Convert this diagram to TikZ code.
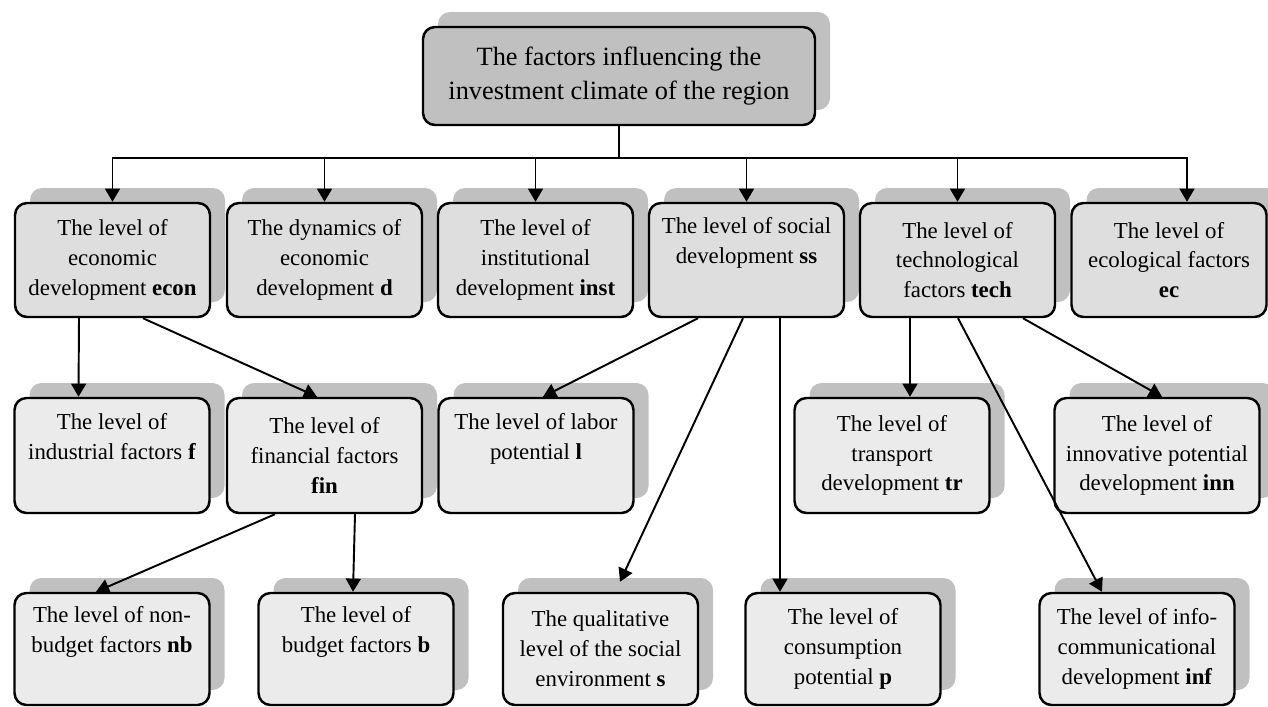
\documentclass[tikz,border=0pt]{standalone}
\usepackage{fontspec}
\setmainfont{Liberation Serif}
\usepackage{tikz}
\usetikzlibrary{arrows.meta,shadows}

\definecolor{shd}{RGB}{192,192,192}
\definecolor{topfill}{RGB}{192,192,192}
\definecolor{lvlone}{RGB}{222,222,222}
\definecolor{lvltwo}{RGB}{235,235,235}

\begin{document}
\begin{tikzpicture}[
  font=\fontsize{13}{17}\selectfont,
  >={Triangle[width=8.5pt,length=7.5pt]},
  arr/.style={->, line width=1.1pt},
  blk/.style={draw, line width=1.4pt, rounded corners=0.24cm, fill=#1, align=center,
              inner sep=2pt, minimum width=3.9cm, minimum height=2.28cm,
              drop shadow={shadow xshift=0.3cm, shadow yshift=0.3cm, opacity=1, fill=shd}},
]
\useasboundingbox (0,0) rectangle (25.36,-14.14);

%% ===== TOP =====
\node[blk=topfill, minimum width=7.84cm, minimum height=1.96cm,
      font=\fontsize{15}{19.4}\selectfont] (climate) at (12.38,-1.52)
    {The factors influencing the\\investment climate of the region};

%% ===== FIRST LEVEL =====
\node[blk=lvlone] (econ) at (2.25,-5.20)
    {The level of\\economic\\development \textbf{econ}};
\node[blk=lvlone] (dyn) at (6.49,-5.20)
    {The dynamics of\\economic\\development \textbf{d}};
\node[blk=lvlone] (inst) at (10.71,-5.20)
    {The level of\\institutional\\development \textbf{inst}};
\node[blk=lvlone] (soc) at (14.93,-5.20)
    {The level of social\\development \textbf{ss}\\\strut};
\node[blk=lvlone] (tech) at (19.15,-5.20)
    {The level of\\technological\\factors \textbf{tech}};
\node[blk=lvlone] (eco) at (23.38,-5.20)
    {The level of\\ecological factors\\\textbf{ec}};

%% ===== SECOND LEVEL =====
\node[blk=lvltwo, minimum height=2.3cm] (ind) at (2.24,-9.11)
    {The level of\\industrial factors \textbf{f}\\\strut};
\node[blk=lvltwo, minimum height=2.3cm] (fin) at (6.49,-9.11)
    {The level of\\financial factors\\\textbf{fin}};
\node[blk=lvltwo, minimum height=2.3cm] (lab) at (10.72,-9.11)
    {The level of labor\\potential \textbf{l}\\\strut};
\node[blk=lvltwo, minimum height=2.3cm] (tr) at (17.84,-9.11)
    {The level of\\transport\\development \textbf{tr}};
\node[blk=lvltwo, minimum height=2.3cm, minimum width=4.1cm] (inn) at (23.14,-9.11)
    {The level of\\innovative potential\\development \textbf{inn}};

%% ===== THIRD LEVEL =====
\node[blk=lvltwo, minimum height=2.24cm] (nb) at (2.24,-12.98)
    {The level of non-\\budget factors \textbf{nb}\\\strut};
\node[blk=lvltwo, minimum height=2.24cm] (bud) at (7.12,-12.98)
    {The level of\\budget factors \textbf{b}\\\strut};
\node[blk=lvltwo, minimum height=2.24cm] (qual) at (12.01,-12.98)
    {The qualitative\\level of the social\\environment \textbf{s}};
\node[blk=lvltwo, minimum height=2.24cm] (cons) at (16.86,-12.98)
    {The level of\\consumption\\potential \textbf{p}};
\node[blk=lvltwo, minimum height=2.24cm] (inf) at (22.74,-12.98)
    {The level of info-\\communicational\\development \textbf{inf}};

%% ===== CONNECTING ARROWS =====
\draw[line width=1.1pt] (climate.south) -- ++(0,-0.64) coordinate (bus);
\coordinate (ecotop) at ([xshift=0.36cm]eco.north);
\draw[arr] (bus) -| (econ.north);
\draw[arr] (bus) -| (ecotop);
\draw[arr] (bus -| dyn.north) -- (dyn.north);
\draw[arr] (bus -| inst.north) -- (inst.north);
\draw[arr] (bus -| soc.north) -- (soc.north);
\draw[arr] (bus -| tech.north) -- (tech.north);

\draw[arr] ([xshift=-0.67cm]econ.south) -- ([xshift=-0.67cm]ind.north);
\draw[arr] ([xshift=0.61cm]econ.south) -- ([xshift=-0.15cm]fin.north);

\draw[arr] ([xshift=-0.99cm]fin.south) -- ([xshift=-0.32cm]nb.north);
\draw[arr] ([xshift=0.61cm]fin.south) -- ([xshift=-0.06cm]bud.north);

\draw[arr] ([xshift=-0.97cm]soc.south) -- ([xshift=0.14cm]lab.north);
\draw[arr] ([xshift=-0.07cm]soc.south) -- ([xshift=0.39cm,yshift=0.2cm]qual.north);
\draw[arr] ([xshift=0.67cm]soc.south) -- ([xshift=-1.26cm]cons.north);

\draw[arr] ([xshift=-0.95cm]tech.south) -- ([xshift=0.36cm]tr.north);
\draw[arr] ([xshift=0.01cm]tech.south) -- ([xshift=-0.7cm]inf.north);
\draw[arr] ([xshift=1.31cm]tech.south) -- ([xshift=0.1cm]inn.north);

\end{tikzpicture}
\end{document}
